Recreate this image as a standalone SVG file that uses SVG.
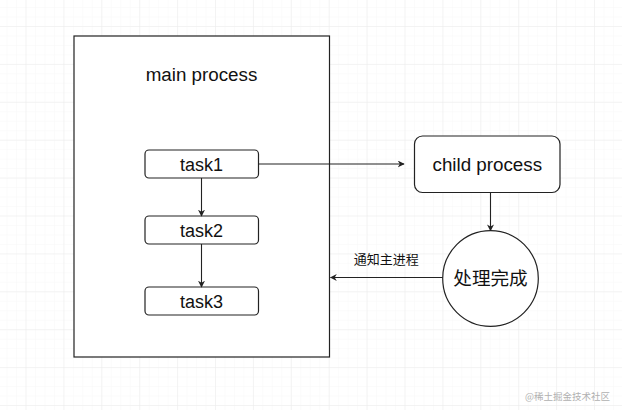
<svg xmlns="http://www.w3.org/2000/svg" width="622" height="410" viewBox="0 0 622 410">
<defs>
<style>
.box{fill:#fff;stroke:#222;stroke-width:1.2}
.lbl{font-family:"Liberation Sans",Arial,"Noto Sans CJK SC",sans-serif;fill:#111;text-anchor:middle}
.cjk{font-family:"Noto Sans CJK SC","Liberation Sans",sans-serif;fill:#111;text-anchor:middle}
.edge{fill:none;stroke:#222;stroke-width:1.1}
</style>
<pattern id="minor" patternUnits="userSpaceOnUse" x="25.5" y="26" width="9.475" height="9.475">
<path d="M0 0H9.475M0 0V9.475" fill="none" stroke="#f7f7f7" stroke-width="1"/>
</pattern>
<pattern id="major" patternUnits="userSpaceOnUse" x="25.5" y="26" width="37.9" height="37.9">
<path d="M0 0H37.9M0 0V37.9" fill="none" stroke="#ebebeb" stroke-width="1"/>
</pattern>
<marker id="arr" viewBox="0 0 10 10" refX="9" refY="5" markerWidth="7" markerHeight="7" markerUnits="userSpaceOnUse" orient="auto">
<path d="M0 0L10 5L0 10L3 5Z" fill="#222"/>
</marker>
</defs>
<rect width="622" height="410" fill="#fff"/>
<rect width="622" height="410" fill="url(#minor)"/>
<rect width="622" height="410" fill="url(#major)"/>

<g id="main-process">
<rect class="box" x="74" y="36" width="255.5" height="321"/>
<text class="lbl" x="201.5" y="81" font-size="18.8">main process</text>
</g>
<g id="task1">
<rect class="box" x="145" y="150" width="113.5" height="28" rx="4"/>
<text class="lbl" x="201.5" y="170.5" font-size="18">task1</text>
</g>
<g id="task2">
<rect class="box" x="145" y="216" width="113.5" height="28" rx="4"/>
<text class="lbl" x="201.5" y="236.5" font-size="18">task2</text>
</g>
<g id="task3">
<rect class="box" x="145" y="287" width="113.5" height="28" rx="4"/>
<text class="lbl" x="201.5" y="307.5" font-size="18">task3</text>
</g>
<g id="child-process">
<rect class="box" x="414.5" y="136" width="145.5" height="56.5" rx="8"/>
<text class="lbl" x="487.3" y="170.5" font-size="18.8">child process</text>
</g>
<g id="done">
<circle class="box" cx="490.5" cy="278.5" r="47.8"/>
<text class="cjk" x="490.5" y="285" font-size="18.6">处理完成</text>
</g>

<g id="connectors">
<path class="edge" d="M258.5 164H404" marker-end="url(#arr)"/>
<path class="edge" d="M201.5 178V216" marker-end="url(#arr)"/>
<path class="edge" d="M201.5 244V287" marker-end="url(#arr)"/>
<path class="edge" d="M490.5 192.5V230.7" marker-end="url(#arr)"/>
<path class="edge" d="M442.7 277.5H330.5" marker-end="url(#arr)"/>
<text class="cjk" x="386.3" y="263.5" font-size="13">通知主进程</text>
</g>

<text x="610" y="400" font-family="Noto Sans CJK SC,sans-serif" font-size="9.5" fill="#b0b0b0" text-anchor="end">@稀土掘金技术社区</text>
</svg>
